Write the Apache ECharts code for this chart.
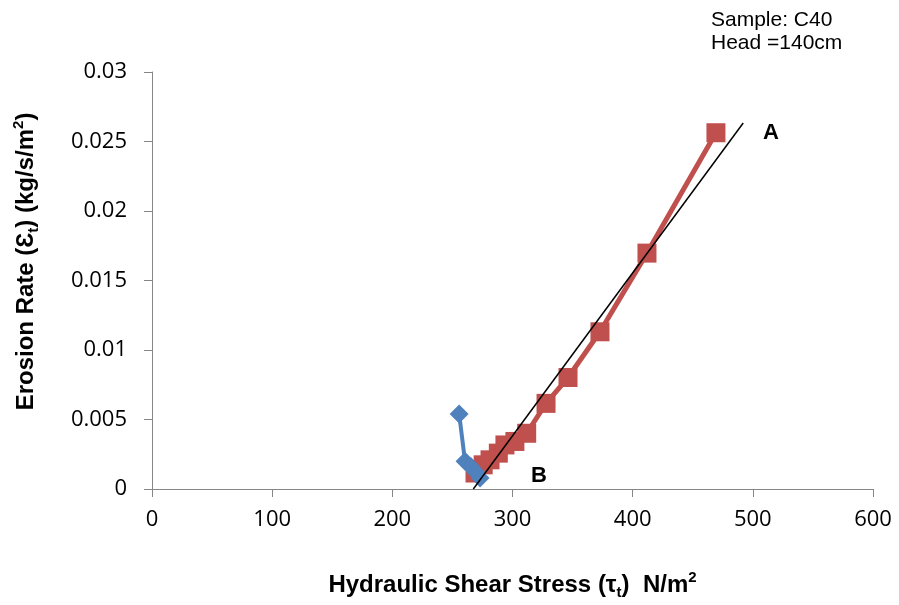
<!DOCTYPE html>
<html><head><meta charset="utf-8">
<script src="https://cdn.jsdelivr.net/npm/echarts@6/dist/echarts.min.js"></script>
<style>html,body{margin:0;padding:0;background:#fff}#c{width:899px;height:605px}</style>
</head><body><div id="c"></div>
<script>
var xTicks = [0, 100, 200, 300, 400, 500, 600];
var yTicks = [0, 0.005, 0.01, 0.015, 0.02, 0.025, 0.03];
var redX = [268.8, 275.6, 281.3, 288.2, 293.7, 302.0, 311.8, 327.9, 346.2, 372.8, 411.9, 469.3];
var redY = [0.00115, 0.00174, 0.0021, 0.00258, 0.00317, 0.00342, 0.00401, 0.00616, 0.00802, 0.01131, 0.01697, 0.02563];
var blueX = [255.6, 260.5, 265.5, 269.5, 273.0];
var blueY = [0.0054, 0.0020, 0.0016, 0.0012, 0.0008];
var fitX = [267.4, 492.0];
var fitY = [0, 0.02633];
var labelNames = ['A', 'B'];
var labelX = [515, 322];
var labelY = [0.02563, 0.00093];

function zip(a, b) { return a.map(function (v, i) { return [v, b[i]]; }); }

var chart = echarts.init(document.getElementById('c'), null, { renderer: 'canvas' });
var titleFont = 'Liberation Sans, Arial, sans-serif';
var tickFont = 'Open Sans, sans-serif';
function richSet() {
  return {
    b: { fontSize: 24, fontWeight: 'bold', fontFamily: titleFont, color: '#000', lineHeight: 30 },
    s: { fontSize: 15, fontWeight: 'bold', fontFamily: titleFont, color: '#000', verticalAlign: 'bottom', lineHeight: 30 },
    p: { fontSize: 15, fontWeight: 'bold', fontFamily: titleFont, color: '#000', verticalAlign: 'top', lineHeight: 30 }
  };
}
chart.setOption({
  animation: false,
  backgroundColor: '#fff',
  grid: { left: 152, right: 26, top: 72, bottom: 114 },
  xAxis: {
    type: 'value', min: xTicks[0], max: xTicks[xTicks.length - 1], interval: 100,
    axisLine: { show: true, lineStyle: { color: '#868686', width: 1 } },
    axisTick: { show: true, length: 8, lineStyle: { color: '#868686' } },
    splitLine: { show: false },
    axisLabel: { color: '#000', fontSize: 22, fontFamily: tickFont, margin: 20 },
    name: '{b|Hydraulic Shear Stress (τ}{s|t}{b|)  N/m}{p|2}',
    nameLocation: 'middle', nameGap: 81,
    nameTextStyle: { fontSize: 24, rich: richSet() }
  },
  yAxis: {
    type: 'value', min: yTicks[0], max: yTicks[yTicks.length - 1], interval: 0.005,
    axisLine: { show: true, lineStyle: { color: '#868686', width: 1 } },
    axisTick: { show: true, length: 8, lineStyle: { color: '#868686' } },
    splitLine: { show: false },
    axisLabel: { color: '#000', fontSize: 22, fontFamily: tickFont, margin: 25,
      formatter: function (v) { return String(+v.toFixed(3)); } },
    name: '{b|Erosion Rate (Ɛ}{s|t}{b|) (kg/s/m}{p|2}{b|)}',
    nameLocation: 'middle', nameGap: 111, nameRotate: 90,
    nameTextStyle: { fontSize: 24, padding: [0, 0, 0, 38], rich: richSet() }
  },
  graphic: [
    { type: 'text', left: 711, top: 10, style: { text: 'Sample: C40', fontSize: 21, fontFamily: titleFont, fill: '#000' } },
    { type: 'text', left: 711, top: 33, style: { text: 'Head =140cm', fontSize: 21, fontFamily: titleFont, fill: '#000' } }
  ],
  series: [
    {
      type: 'line', data: zip(redX, redY), symbol: 'rect', symbolSize: 19,
      lineStyle: { color: '#C0504D', width: 5 }, itemStyle: { color: '#C0504D' }, z: 2
    },
    {
      type: 'line', data: zip(blueX, blueY), symbol: 'diamond', symbolSize: 19,
      lineStyle: { color: '#4F81BD', width: 4 }, itemStyle: { color: '#4F81BD' }, z: 3
    },
    {
      type: 'line', data: zip(fitX, fitY), symbol: 'none',
      lineStyle: { color: '#000', width: 1.5 }, z: 4
    },
    {
      type: 'scatter', symbolSize: 0, z: 5, itemStyle: { opacity: 1 },
      data: labelX.map(function (x, i) { return { value: [x, labelY[i]], name: labelNames[i] }; }),
      label: { show: true, position: 'inside', formatter: '{b}', fontSize: 22, fontWeight: 'bold', fontFamily: titleFont, color: '#000', opacity: 1 }
    }
  ]
});
</script></body></html>
